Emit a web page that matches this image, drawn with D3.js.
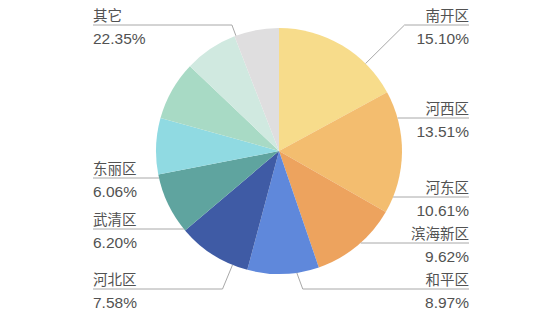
<!DOCTYPE html>
<html>
<head>
<meta charset="utf-8">
<script src="https://cdn.jsdelivr.net/npm/d3@7"></script>
<style>
  body { margin: 0; background: #fff; }
  text { font-family: "Liberation Sans", "Noto Sans CJK SC", sans-serif; font-size: 15px; fill: #525252; }
  text.name { font-size: 14.5px; }
  text.value { font-size: 15.5px; }
</style>
</head>
<body>
<div id="chart"></div>
<script>
// slice shares as drawn in the picture (clockwise from 12 o'clock)
var sliceShares = [17.1, 16.2, 11.5, 9.4, 9.7, 8.1, 7.4, 7.8, 7.0, 5.9];
var sliceColors = ["#F7DC8B", "#F3BD6F", "#EDA35E", "#5F88DB", "#3F5BA5",
                   "#5FA49F", "#90DAE2", "#A8DAC5", "#D0E9E0", "#DFDEDF"];

// label texts
var labelNames = ["南开区", "河西区", "河东区", "滨海新区", "和平区", "河北区", "武清区", "东丽区", "其它"];
var labelValues = ["15.10%", "13.51%", "10.61%", "9.62%", "8.97%", "7.58%", "6.20%", "6.06%", "22.35%"];

var width = 550,
    height = 318,
    cx = 279, cy = 151,
    radius = 123;

// label layout: side, rule line y, optional elbow (angle on rim in deg, x offset of bend)
var labelLayout = [
  {side: "right", y: 25, angle: 44.7, bend: 39},
  {side: "right", y: 118},
  {side: "right", y: 197},
  {side: "right", y: 243},
  {side: "right", y: 289, angle: 171.7, bend: 6},
  {side: "left", y: 289, angle: 202.2, bend: -10},
  {side: "left", y: 229},
  {side: "left", y: 178},
  {side: "left", y: 25, angle: -20.5, bend: -4}
];
var rightEdge = 469, leftEdge = 93;

var svg = d3.select("#chart").append("svg")
  .attr("width", width)
  .attr("height", height);

var pie = d3.pie().sort(null).value(function(d) { return d; });
var arc = d3.arc().innerRadius(0).outerRadius(radius);

var g = svg.append("g").attr("transform", "translate(" + cx + "," + cy + ")");

g.selectAll("path")
  .data(pie(sliceShares))
  .enter().append("path")
  .attr("d", arc)
  .attr("fill", function(d, i) { return sliceColors[i]; });

// leader lines + labels
labelLayout.forEach(function(l, i) {
  var x0 = l.side == "right" ? rightEdge : leftEdge;
  var pts;
  if (l.angle !== undefined) {
    var a = l.angle * Math.PI / 180;
    var tx = cx + radius * Math.sin(a),
        ty = cy - radius * Math.cos(a);
    pts = [[x0, l.y], [tx + l.bend, l.y], [tx, ty]];
  } else {
    var dy = l.y - cy;
    var dx = Math.sqrt(radius * radius - dy * dy);
    var tx = l.side == "right" ? cx + dx : cx - dx;
    pts = [[x0, l.y], [tx, l.y]];
  }
  svg.append("path")
    .attr("d", d3.line()(pts))
    .attr("fill", "none")
    .attr("stroke", "#a8a8a8")
    .attr("stroke-width", 1);

  var anchor = l.side == "right" ? "end" : "start";
  svg.append("text")
    .attr("class", "name")
    .attr("x", x0)
    .attr("y", l.y - 4)
    .attr("text-anchor", anchor)
    .text(labelNames[i]);
  svg.append("text")
    .attr("class", "value")
    .attr("x", x0)
    .attr("y", l.y + 19)
    .attr("text-anchor", anchor)
    .text(labelValues[i]);
});
</script>
</body>
</html>
